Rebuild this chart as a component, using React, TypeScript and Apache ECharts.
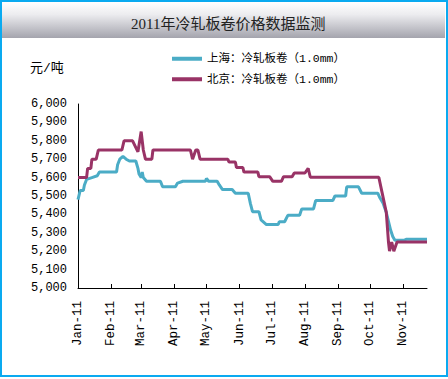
import React, { useEffect, useRef } from 'react';
import * as echarts from 'echarts';

const titleText = '2011年冷轧板卷价格数据监测';
const unitText = '元/吨';
const seriesNames = ['上海：冷轧板卷（1.0mm）', '北京：冷轧板卷（1.0mm）'];
const monthLabels = ['Jan', 'Feb', 'Mar', 'Apr', 'May', 'Jun', 'Jul', 'Aug', 'Sep', 'Oct', 'Nov', 'Dec'];
const xMin = '2011-01-01';
const xMax = '2011-11-23';
const yMin = 5000;
const yMax = 6000;
const yStep = 100;

const shDates = [
  '2011-01-01', '2011-01-03', '2011-01-06', '2011-01-07', '2011-01-09', '2011-01-14', '2011-01-19', '2011-01-21',
  '2011-02-06', '2011-02-07', '2011-02-09', '2011-02-12', '2011-02-15', '2011-02-18', '2011-02-24', '2011-02-26',
  '2011-02-27', '2011-03-01', '2011-03-02', '2011-03-03', '2011-03-06', '2011-03-19', '2011-03-21', '2011-04-02',
  '2011-04-04', '2011-04-09', '2011-04-30', '2011-05-01', '2011-05-03', '2011-05-11', '2011-05-13', '2011-05-16',
  '2011-05-25', '2011-05-28', '2011-06-09', '2011-06-11', '2011-06-13', '2011-06-19', '2011-06-21', '2011-06-26',
  '2011-07-07', '2011-07-08', '2011-07-13', '2011-07-16', '2011-07-27', '2011-07-29', '2011-08-09', '2011-08-11',
  '2011-08-27', '2011-08-29', '2011-09-08', '2011-09-09', '2011-09-20', '2011-09-23', '2011-10-08', '2011-10-10',
  '2011-10-13', '2011-10-16', '2011-10-20', '2011-10-22', '2011-10-24', '2011-11-02', '2011-11-04', '2011-11-23'
];
const shValues = [
  5480, 5530, 5530, 5560, 5590, 5600, 5610, 5630,
  5630, 5670, 5700, 5715, 5700, 5690, 5690, 5650,
  5620, 5600, 5630, 5600, 5580, 5580, 5550, 5550,
  5570, 5580, 5580, 5595, 5580, 5580, 5560, 5535,
  5535, 5515, 5515, 5460, 5415, 5415, 5370, 5345,
  5345, 5360, 5360, 5395, 5395, 5430, 5430, 5475,
  5475, 5500, 5500, 5550, 5550, 5515, 5515, 5490,
  5460, 5410, 5315, 5280, 5260, 5260, 5265, 5265
];

const bjDates = [
  '2011-01-01', '2011-01-09', '2011-01-10', '2011-01-13', '2011-01-14', '2011-01-18', '2011-01-20', '2011-02-11',
  '2011-02-13', '2011-02-21', '2011-02-26', '2011-03-01', '2011-03-03', '2011-03-05', '2011-03-11', '2011-03-12',
  '2011-04-16', '2011-04-18', '2011-04-21', '2011-04-23', '2011-04-25', '2011-05-21', '2011-05-22', '2011-05-28',
  '2011-05-29', '2011-06-04', '2011-06-05', '2011-06-18', '2011-06-19', '2011-06-29', '2011-07-02', '2011-07-10',
  '2011-07-12', '2011-07-20', '2011-07-22', '2011-08-01', '2011-08-04', '2011-08-06', '2011-10-09', '2011-10-12',
  '2011-10-16', '2011-10-18', '2011-10-19', '2011-10-21', '2011-10-23', '2011-10-26', '2011-11-23'
];
const bjValues = [
  5600, 5600, 5650, 5650, 5700, 5700, 5750, 5750,
  5800, 5800, 5740, 5850, 5750, 5700, 5700, 5750,
  5750, 5700, 5750, 5750, 5700, 5700, 5685, 5685,
  5655, 5655, 5630, 5630, 5605, 5605, 5580, 5580,
  5605, 5605, 5625, 5625, 5650, 5602, 5602, 5520,
  5410, 5250, 5200, 5250, 5200, 5250, 5250
];

const seriesColors = ['#4bacc6', '#993366'];

export default function App() {
  const ref = useRef<HTMLDivElement>(null);
  useEffect(() => {
    if (!ref.current) return;
    const chart = echarts.init(ref.current, null, { renderer: 'svg' });
    const toPairs = (dates: string[], vals: number[]) => dates.map((d, i) => [d, vals[i]]);
    const mono = "'Liberation Mono', 'Noto Sans CJK SC', monospace";
    chart.setOption({
      animation: false,
      backgroundColor: '#ffffff',
      title: {
        text: titleText,
        left: 126,
        top: 11,
        textStyle: {
          fontSize: 15,
          fontWeight: 'normal',
          fontFamily: "'Liberation Serif', 'Noto Sans CJK SC', serif",
          color: '#222222'
        }
      },
      graphic: [
        {
          type: 'rect',
          z: -10,
          shape: { x: 2, y: 2, width: 443, height: 36 },
          style: {
            fill: new echarts.graphic.LinearGradient(0, 0, 0, 1, [
              { offset: 0, color: '#ffffff' },
              { offset: 0.35, color: '#ececef' },
              { offset: 1, color: '#a4a4ad' }
            ])
          }
        },
        {
          type: 'rect',
          z: 100,
          shape: { x: 1, y: 1, width: 446, height: 375 },
          style: { fill: 'none', stroke: '#0aaaf0', lineWidth: 2 }
        },
        {
          type: 'text',
          left: 30,
          top: 62,
          style: { text: unitText, fontSize: 13, fontFamily: mono, fill: '#000000' }
        }
      ],
      legend: {
        orient: 'vertical',
        left: 172,
        top: 53,
        padding: 0,
        icon: 'rect',
        itemWidth: 30,
        itemHeight: 4,
        itemGap: 9,
        textStyle: { fontSize: 11.5, fontFamily: mono, color: '#000000' },
        data: seriesNames
      },
      grid: { left: 78, right: 21, top: 104, bottom: 91 },
      xAxis: {
        type: 'time',
        min: xMin,
        max: xMax,
        minInterval: 28 * 86400000,
        maxInterval: 31 * 86400000,
        axisLine: { lineStyle: { color: '#000000', width: 1 } },
        axisTick: { show: true, inside: true, length: 4, lineStyle: { color: '#000000' } },
        splitLine: { show: false },
        axisLabel: {
          rotate: 90,
          margin: 13,
          fontSize: 12.5,
          fontFamily: mono,
          color: '#000000',
          hideOverlap: false,
          formatter: (v: number) => {
            const d = new Date(v);
            return monthLabels[d.getMonth()] + '-11';
          }
        }
      },
      yAxis: {
        type: 'value',
        min: yMin,
        max: yMax,
        interval: yStep,
        axisLine: { show: true, lineStyle: { color: '#000000', width: 1 } },
        axisTick: { show: false },
        splitLine: { show: false },
        axisLabel: {
          margin: 11,
          fontSize: 12,
          fontFamily: mono,
          color: '#000000',
          formatter: (v: number) => v.toLocaleString('en-US')
        }
      },
      series: [
        {
          name: seriesNames[0],
          type: 'line',
          data: toPairs(shDates, shValues),
          showSymbol: false,
          color: seriesColors[0],
          lineStyle: { width: 3, color: seriesColors[0] }
        },
        {
          name: seriesNames[1],
          type: 'line',
          data: toPairs(bjDates, bjValues),
          showSymbol: false,
          color: seriesColors[1],
          lineStyle: { width: 3, color: seriesColors[1] }
        }
      ]
    });
    return () => chart.dispose();
  }, []);
  return (
    <div
      ref={ref}
      style={{ position: 'absolute', left: 0, top: 0, width: 448, height: 379 }}
    />
  );
}
